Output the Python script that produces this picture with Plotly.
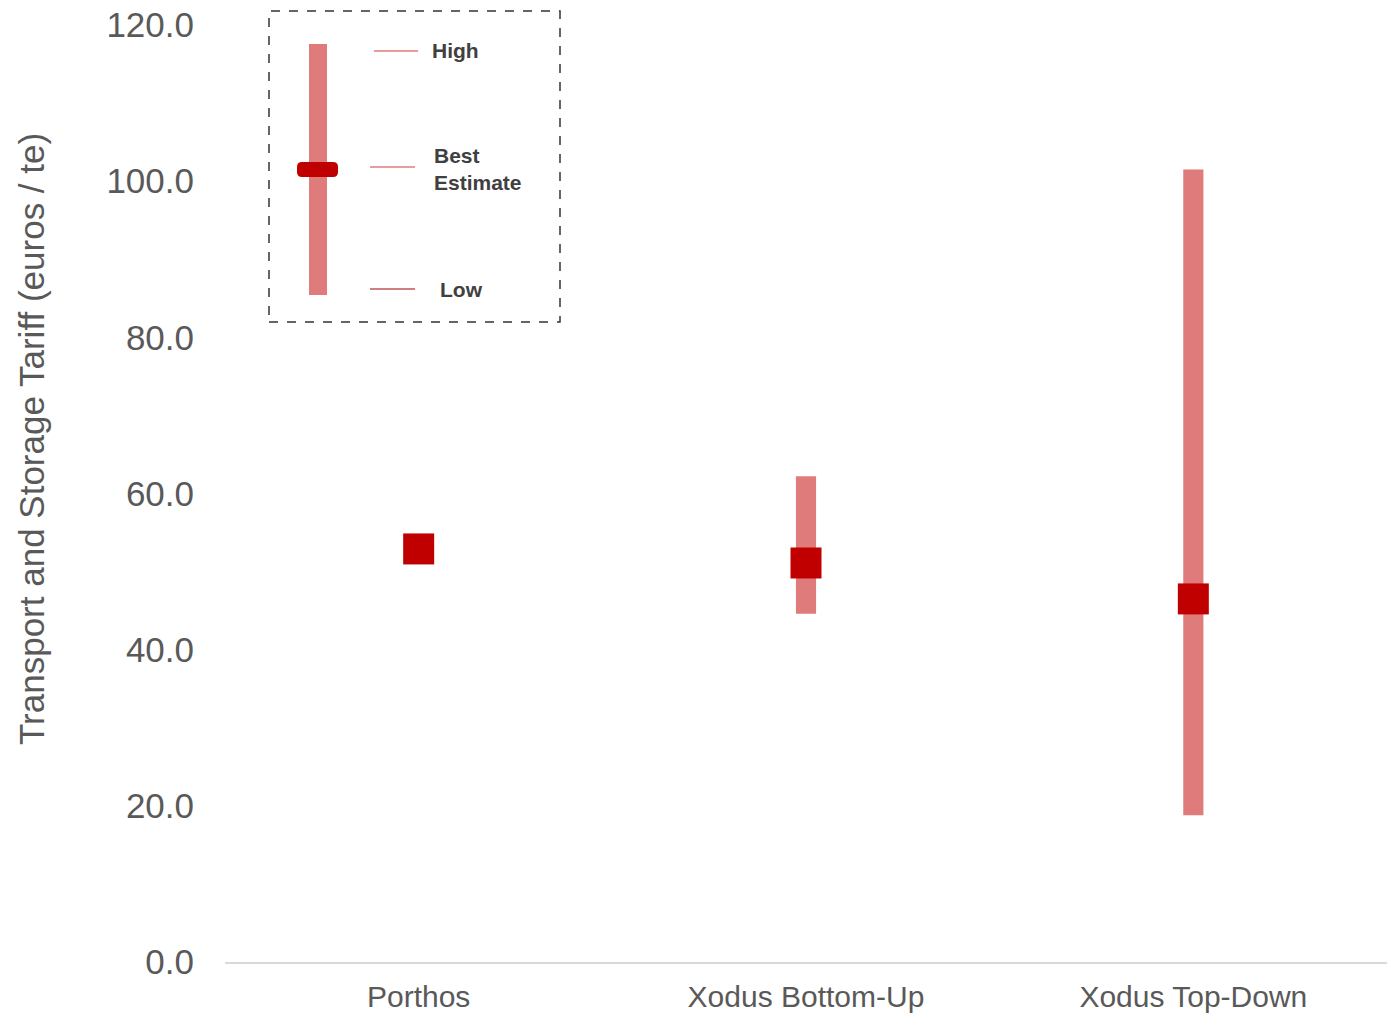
import plotly.graph_objects as go

categories = ["Porthos", "Xodus Bottom-Up", "Xodus Top-Down"]
low_vals = [52.9, 44.6, 18.8]
high_vals = [52.9, 62.2, 101.5]
best_vals = [52.9, 51.1, 46.5]
y_ticks = [0, 20, 40, 60, 80, 100, 120]

W, H = 1393, 1015
ML, MR, MT, MB = 225, 6, 25, 53
PW, PH = W - ML - MR, H - MT - MB

BAR_COLOR = "#E07B7B"
MARK_COLOR = "#C00000"
FONT = "Liberation Sans, Arial, sans-serif"


def px(x):
    return (x - ML) / PW


def py(y):
    return (H - MB - y) / PH


def rounded_rect(x0, y0, x1, y1, r):
    # pixel coords -> paper path with quadratic corners
    pts = [
        ("M", x0 + r, y0), ("L", x1 - r, y0), ("Q", x1, y0, x1, y0 + r),
        ("L", x1, y1 - r), ("Q", x1, y1, x1 - r, y1), ("L", x0 + r, y1),
        ("Q", x0, y1, x0, y1 - r), ("L", x0, y0 + r), ("Q", x0, y0, x0 + r, y0),
    ]
    out = []
    for p in pts:
        cmd = p[0]
        vals = p[1:]
        coords = []
        for i in range(0, len(vals), 2):
            coords.append(f"{px(vals[i]):.5f},{py(vals[i + 1]):.5f}")
        out.append(cmd + " ".join(coords))
    return " ".join(out) + " Z"


fig = go.Figure()
fig.add_trace(go.Bar(
    x=categories,
    y=[h - l for h, l in zip(high_vals, low_vals)],
    base=low_vals,
    width=0.052,
    marker=dict(color=BAR_COLOR, line=dict(width=0)),
    showlegend=False,
    hoverinfo="skip",
))
fig.add_trace(go.Scatter(
    x=categories,
    y=best_vals,
    mode="markers",
    marker=dict(symbol="square", size=31, color=MARK_COLOR, line=dict(width=0)),
    showlegend=False,
))

shapes = []
annotations = []
# legend box (decorative key)
shapes.append(dict(type="rect", xref="paper", yref="paper",
                   x0=px(269), x1=px(560), y0=py(322), y1=py(11),
                   line=dict(color="#333333", width=1.5, dash="dash"),
                   fillcolor="rgba(0,0,0,0)"))
shapes.append(dict(type="rect", xref="paper", yref="paper",
                   x0=px(309), x1=px(327), y0=py(295), y1=py(44),
                   line=dict(width=0), fillcolor=BAR_COLOR))
shapes.append(dict(type="path", xref="paper", yref="paper",
                   path=rounded_rect(297, 162, 338, 177, 5),
                   line=dict(width=0), fillcolor=MARK_COLOR))
shapes.append(dict(type="line", xref="paper", yref="paper",
                   x0=px(374), x1=px(418), y0=py(51), y1=py(51),
                   line=dict(color=BAR_COLOR, width=1.5)))
shapes.append(dict(type="line", xref="paper", yref="paper",
                   x0=px(370), x1=px(415), y0=py(167), y1=py(167),
                   line=dict(color=BAR_COLOR, width=1.5)))
shapes.append(dict(type="line", xref="paper", yref="paper",
                   x0=px(370), x1=px(415), y0=py(289), y1=py(289),
                   line=dict(color="#A00000", width=1.2)))

lab_font = dict(family=FONT, size=21, color="#404040")
annotations.append(dict(xref="paper", yref="paper", x=px(430), y=py(51),
                        xanchor="left", yanchor="middle", showarrow=False,
                        text="<b>High</b>", font=lab_font))
annotations.append(dict(xref="paper", yref="paper", x=px(432), y=py(169),
                        xanchor="left", yanchor="middle", showarrow=False,
                        align="left", text="<b>Best<br>Estimate</b>", font=lab_font))
annotations.append(dict(xref="paper", yref="paper", x=px(438), y=py(289),
                        xanchor="left", yanchor="middle", showarrow=False,
                        text="<b>Low</b>", font=lab_font))
annotations.append(dict(xref="paper", yref="paper", x=px(32), y=py(439),
                        xanchor="center", yanchor="middle", showarrow=False,
                        textangle=-90,
                        text="Transport and Storage Tariff (euros / te)",
                        font=dict(family=FONT, size=35, color="#595959")))

fig.update_layout(
    width=W, height=H,
    margin=dict(l=ML, r=MR, t=MT, b=MB, autoexpand=False),
    paper_bgcolor="white", plot_bgcolor="white",
    barmode="overlay",
    shapes=shapes, annotations=annotations,
    font=dict(family=FONT, color="#595959"),
)
fig.update_xaxes(
    range=[-0.5, 2.5], automargin=False,
    showline=True, linecolor="#D9D9D9", linewidth=2,
    showgrid=False, ticks="",
    tickfont=dict(family=FONT, size=30, color="#595959"),
    ticklabelstandoff=7,
)
fig.update_yaxes(
    range=[0, 120], automargin=False,
    tickvals=y_ticks, ticktext=[f"{v:.1f}" for v in y_ticks],
    showline=False, showgrid=False, zeroline=False, ticks="",
    tickfont=dict(family=FONT, size=35, color="#595959"),
    ticklabelstandoff=30,
)

fig.write_html("out.html")
